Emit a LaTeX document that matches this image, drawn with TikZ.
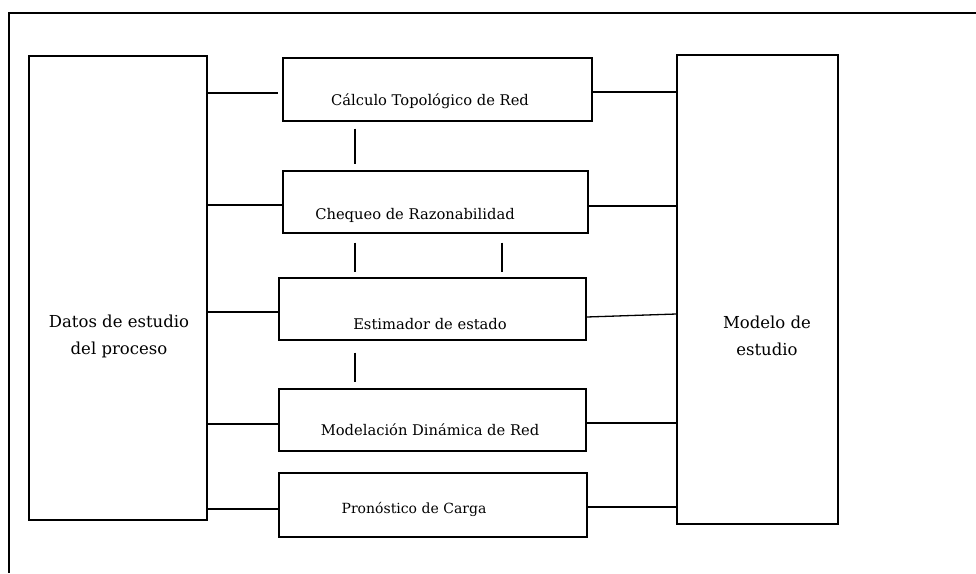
\documentclass[tikz,border=0pt]{standalone}
\usepackage{fontspec}
\setmainfont{DejaVu Serif}
\begin{document}
\begin{tikzpicture}
    [x=1pt,y=-1pt,
     box/.style={draw,line width=1.3pt,inner sep=0pt},
     line/.style={line width=1.3pt},
     txt/.style={inner sep=0pt,anchor=base,font=\fontsize{14.7}{18}\selectfont},
     big/.style={inner sep=0pt,align=center,font=\fontsize{16.5}{27}\selectfont}]
    \useasboundingbox (0,0) rectangle (976,573);
    % frame
    \draw[line] (976,13) -- (9,13) -- (9,573);
    % side blocks
    \node[box,minimum width=178pt,minimum height=464pt] (datos) at (118,288) {};
    \node[big] (datos-t) at (119,336) {Datos de estudio\\del proceso};
    \node[box,minimum width=161pt,minimum height=469pt] (modelo) at (757.5,289.5) {};
    \node[big] (modelo-t) at (767,336) {Modelo de\\estudio};
    % middle blocks
    \node[box,minimum width=309pt,minimum height=63pt] (calc) at (437.5,89.5) {};
    \node[txt] (calc-t) at (430,105) {Cálculo Topológico de Red};
    \node[box,minimum width=305pt,minimum height=62pt] (cheq) at (435.5,202) {};
    \node[txt] (cheq-t) at (415,219) {Chequeo de Razonabilidad};
    \node[box,minimum width=307pt,minimum height=62pt] (est) at (432.5,309) {};
    \node[txt] (est-t) at (430,329) {Estimador de estado};
    \node[box,minimum width=307pt,minimum height=62pt] (mod) at (432.5,420) {};
    \node[txt] (mod-t) at (430,435) {Modelación Dinámica de Red};
    \node[box,minimum width=308pt,minimum height=64pt] (pron) at (433,505) {};
    \node[txt,font=\fontsize{14}{18}\selectfont] (pron-t) at (414,513) {Pronóstico de Carga};
    % links to the left
    \draw[line,shorten >=4pt] (datos.east |- 0,93) -- (calc.west |- 0,93);
    \draw[line] (datos.east |- 0,205) -- (cheq.west |- 0,205);
    \draw[line] (datos.east |- 0,312) -- (est.west |- 0,312);
    \draw[line] (datos.east |- 0,424) -- (mod.west |- 0,424);
    \draw[line] (datos.east |- 0,509) -- (pron.west |- 0,509);
    % links to the right
    \draw[line] (calc.east |- 0,92) -- (modelo.west |- 0,92);
    \draw[line] (cheq.east |- 0,206) -- (modelo.west |- 0,206);
    \draw[line] (est.east |- 0,317) -- (modelo.west |- 0,314);
    \draw[line] (mod.east |- 0,423) -- (modelo.west |- 0,423);
    \draw[line] (pron.east |- 0,507) -- (modelo.west |- 0,507);
    % links between blocks
    \draw[line,shorten <=7pt,shorten >=6pt] (calc.south -| 355,0) -- (cheq.north -| 355,0);
    \draw[line,shorten <=9pt,shorten >=5pt] (cheq.south -| 355,0) -- (est.north -| 355,0);
    \draw[line,shorten <=9pt,shorten >=5pt] (cheq.south -| 502,0) -- (est.north -| 502,0);
    \draw[line,shorten <=12pt,shorten >=6pt] (est.south -| 355,0) -- (mod.north -| 355,0);
\end{tikzpicture}
\end{document}
